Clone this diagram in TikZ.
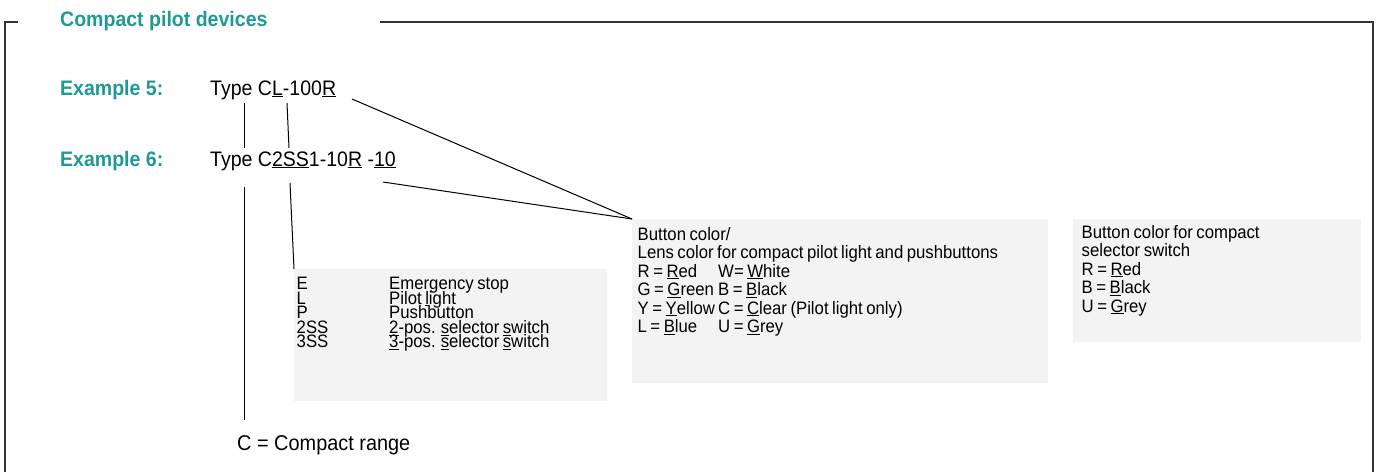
\documentclass[tikz,border=0pt]{standalone}
\usepackage{fontspec}
\setmainfont{Liberation Sans}[FakeStretch=0.93]
\newfontfamily\boxfont{Liberation Sans}[FakeStretch=0.93,WordSpace=0.75]
\definecolor{tealhead}{HTML}{1E9A96}
\definecolor{boxgray}{HTML}{F3F3F3}
\definecolor{framegray}{HTML}{333333}
\newsavebox\ulsave
\newcommand\ulx[1]{\sbox\ulsave{#1}\rlap{\rule[-2pt]{\wd\ulsave}{0.8pt}}\usebox\ulsave}
\begin{document}
\begin{tikzpicture}[x=1pt,y=-1pt,
  txt/.style={anchor=base west,inner sep=0pt,font=\boxfont\fontsize{18}{19}\selectfont},
  big/.style={anchor=base west,inner sep=0pt,font=\fontsize{21}{24}\selectfont},
  head/.style={anchor=base west,inner sep=0pt,text=tealhead,font=\fontsize{21}{24}\selectfont\bfseries},
  graybox/.style={fill=boxgray,draw=none,anchor=north west,inner sep=0pt},
  link/.style={draw=black,line width=1pt},
  framel/.style={draw=framegray,line width=1.4pt}]
\useasboundingbox (0,0) rectangle (1378,472);
% frame
\draw[framel] (18,22) -- (5,22) -- (5,472);
\draw[framel] (380,22) -- (1373,22) -- (1373,472);
% headings
\node[head] (title) at (60,26) {Compact pilot devices};
\node[head] (ex5) at (60,95) {Example 5:};
\node[head] (ex6) at (60,166) {Example 6:};
\node[big] (type5) at (210,95) {Type C\ulx{L}-100\ulx{R}};
\node[big] (type6) at (210,166) {Type C\ulx{2SS}1-10\ulx{R} -\ulx{10}};
\node[big,font=\fontsize{21.4}{24}\selectfont] (crange) at (237,450) {C = Compact range};
% boxes
\node[graybox,minimum width=313pt,minimum height=132pt] (box1) at (294,269) {};
\node[graybox,minimum width=416pt,minimum height=164pt] (box2) at (632,219) {};
\node[graybox,minimum width=288pt,minimum height=123pt] (box3) at (1073,219) {};
% box 1 text
\node[txt] (b1a1) at (296.5,289.5) {E};
\node[txt] (b1a2) at (389,289.5) {Emergency stop};
\node[txt] (b1b1) at (296.5,304.1) {L};
\node[txt] (b1b2) at (389,304.1) {Pilot \ulx{l}ight};
\node[txt] (b1c1) at (296.5,318.7) {P};
\node[txt] (b1c2) at (389,318.7) {Pushbutton};
\node[txt] (b1d1) at (296.5,333.3) {2SS};
\node[txt] (b1d2) at (389,333.3) {\ulx{2}-pos. \ulx{s}elector \ulx{s}witch};
\node[txt] (b1e1) at (296.5,347.9) {3SS};
\node[txt] (b1e2) at (389,347.9) {\ulx{3}-pos. \ulx{s}elector \ulx{s}witch};
% box 2 text
\node[txt] (b2a) at (637.5,240) {Button color/};
\node[txt] (b2b) at (637.5,258.5) {Lens color for compact pilot light and pushbuttons};
\node[txt] (b2c1) at (637.5,277) {R = \ulx{R}ed};
\node[txt] (b2c2) at (718,277) {W= \ulx{W}hite};
\node[txt] (b2d1) at (637.5,295.5) {G = \ulx{G}reen};
\node[txt] (b2d2) at (718,295.5) {B = \ulx{B}lack};
\node[txt] (b2e1) at (637.5,314) {Y = \ulx{Y}ellow};
\node[txt] (b2e2) at (718,314) {C = \ulx{C}lear (Pilot light only)};
\node[txt] (b2f1) at (637.5,332.5) {L = \ulx{B}lue};
\node[txt] (b2f2) at (718,332.5) {U = \ulx{G}rey};
% box 3 text
\node[txt] (b3a) at (1081.5,238) {Button color for compact};
\node[txt] (b3b) at (1081.5,256.5) {selector switch};
\node[txt] (b3c) at (1081.5,275) {R = \ulx{R}ed};
\node[txt] (b3d) at (1081.5,293.5) {B = \ulx{B}lack};
\node[txt] (b3e) at (1081.5,312) {U = \ulx{G}rey};
% connector end points
\coordinate (p5C) at (244,103);
\coordinate (p6Ctop) at (244,148);
\coordinate (p5L) at (287,103);
\coordinate (p6S) at (289,148);
\coordinate (p5R) at (352,99);
\coordinate (p6T) at (383,182);
\coordinate (p6C) at (244,187);
\coordinate (pCr) at (244,420);
\coordinate (p6SS) at (290,183);
% connectors
\draw[link] (p5C) -- (p6Ctop);
\draw[link] (p5L) -- (p6S);
\draw[link] (p5R) -- (box2.north west);
\draw[link] (p6T) -- (box2.north west);
\draw[link] (p6C) -- (pCr);
\draw[link] (p6SS) -- (box1.north west);
\end{tikzpicture}
\end{document}
